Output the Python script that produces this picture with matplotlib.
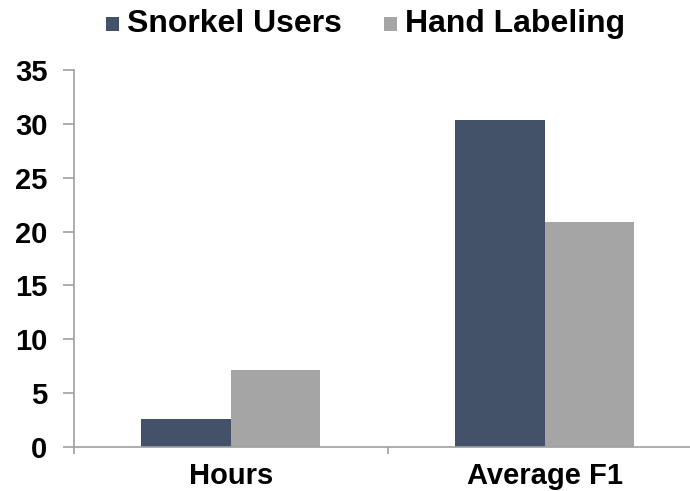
import numpy as np
import matplotlib.pyplot as plt

categories = ['Hours', 'Average F1']
snorkel_users = [2.6, 30.4]
hand_labeling = [7.15, 20.9]

plt.rcParams['font.family'] = ['Liberation Sans', 'DejaVu Sans']
plt.rcParams['font.weight'] = 'bold'

fig = plt.figure(figsize=(6.9, 4.91), dpi=100)
ax = fig.add_axes([0.107, 0.09, 0.91, 0.767])

x = np.arange(len(categories))
w = 0.285
ax.bar(x - w / 2, snorkel_users, w, color='#445269', label='Snorkel Users')
ax.bar(x + w / 2, hand_labeling, w, color='#a5a5a5', label='Hand Labeling')

ax.set_xlim(-0.5, 1.5)
ax.set_ylim(0, 35)
ax.set_yticks(range(0, 36, 5))
ax.set_xticks(x)
ax.set_xticklabels(categories)
ax.set_xticks([-0.5, 0.5, 1.5], minor=True)
ax.tick_params(axis='x', which='major', length=0, labelsize=21, pad=11)
ax.tick_params(axis='x', which='minor', length=5, color='#a0a0a0', width=1.2)
ax.tick_params(axis='y', length=8, color='#a0a0a0', width=1.2, labelsize=21, pad=11)

for s in ['top', 'right']:
    ax.spines[s].set_visible(False)
for s in ['left', 'bottom']:
    ax.spines[s].set_color('#a0a0a0')
    ax.spines[s].set_linewidth(1.2)

leg = fig.legend(loc='center', bbox_to_anchor=(0.53, 0.952), ncol=2, frameon=False,
                 fontsize=23, handlelength=0.42, handleheight=0.32, handletextpad=0.25,
                 columnspacing=1.3, borderpad=0)
# sit the little squares on the text baseline
for p in leg.get_patches():
    p.set_y(p.get_y() - 2.8)

fig.savefig('out.png', dpi=100)
